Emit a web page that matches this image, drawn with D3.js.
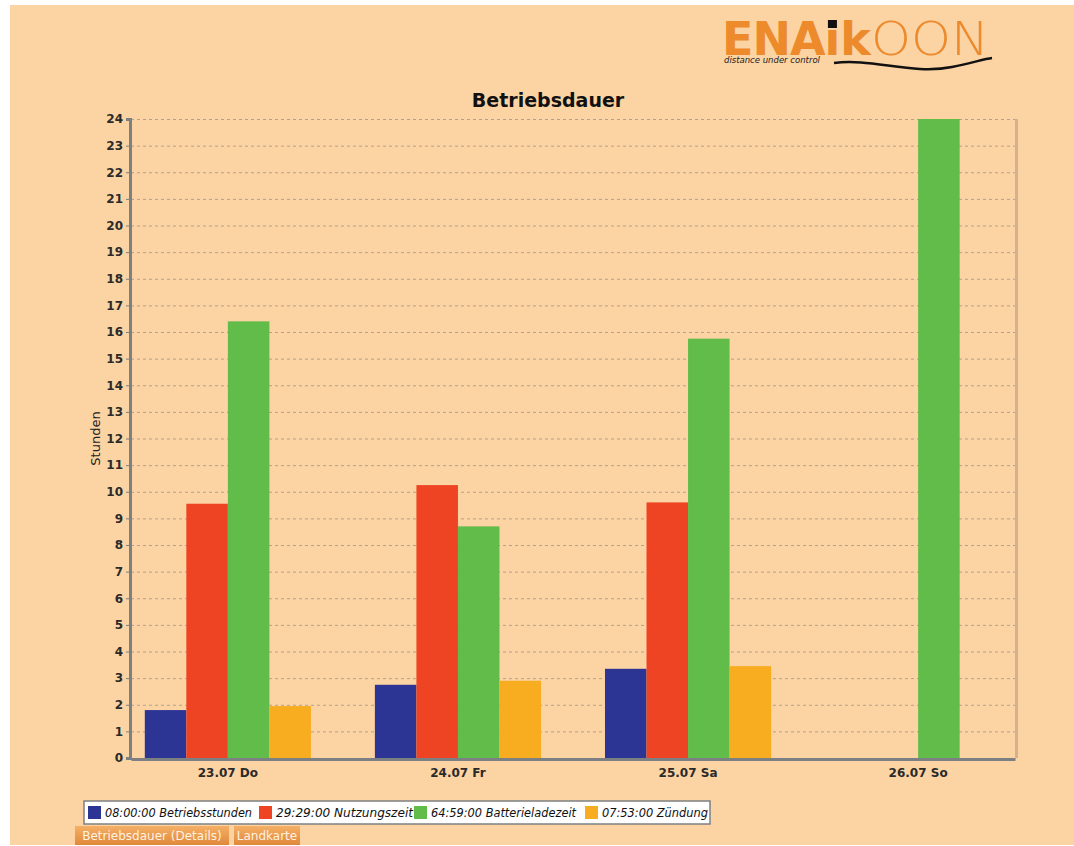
<!DOCTYPE html>
<html>
<head>
<meta charset="utf-8">
<script src="https://cdn.jsdelivr.net/npm/d3@7/dist/d3.min.js"></script>
<style>
  body { margin: 0; background: #fff; }
  svg { display: block; }
  text { font-family: "DejaVu Sans", sans-serif; }
</style>
</head>
<body>
<div class="chart"></div>
<script>
// data
const categories = ['23.07 Do', '24.07 Fr', '25.07 Sa', '26.07 So'];
const seriesNames = ['Betriebsstunden', 'Nutzungszeit', 'Batterieladezeit', 'Zündung'];
const seriesTotals = ['08:00:00', '29:29:00', '64:59:00', '07:53:00'];
const seriesColors = ['#2c3494', '#ee4424', '#62bc4a', '#f8ac20'];
const betriebsstunden = [1.8, 2.75, 3.35, 0];
const nutzungszeit = [9.55, 10.25, 9.6, 0];
const batterieladezeit = [16.4, 8.7, 15.75, 24];
const zuendung = [1.95, 2.9, 3.45, 0];
const yTicks = d3.range(0, 25);
const buttons = ['Betriebsdauer (Details)', 'Landkarte'];

const seriesValues = [betriebsstunden, nutzungszeit, batterieladezeit, zuendung];

const svg_width = 1074, svg_height = 846;
const margin = {top: 119, right: 59, bottom: 88, left: 131};
const chart_width = svg_width - margin.left - margin.right;
const chart_height = svg_height - margin.top - margin.bottom;

const svg = d3.select('.chart').append('svg')
  .attr('width', svg_width).attr('height', svg_height);

// peach page background
svg.append('rect').attr('x', 10).attr('y', 5)
  .attr('width', svg_width - 10).attr('height', svg_height - 6)
  .attr('fill', '#fcd3a3');

// logo
const logo = svg.append('g').attr('transform', 'translate(722,55)');
const logoText = logo.append('text').attr('font-family', '"DejaVu Sans", sans-serif')
  .attr('fill', '#ec8a2c').style('font-size', '46px');
logoText.append('tspan').text('ENA').attr('font-weight', 'bold').attr('letter-spacing', '-1');
logoText.append('tspan').text('ı').attr('font-weight', 'bold');
logoText.append('tspan').text('k').attr('font-weight', 'bold');
logoText.append('tspan').text('OON').attr('font-weight', '200').style('font-size', '47px')
  .attr('font-family', '"DejaVu Sans ExtraLight", "DejaVu Sans", sans-serif')
  .attr('textLength', 118).attr('lengthAdjust', 'spacingAndGlyphs');
// black dot over the i
const ln = logoText.node();
const iStart = ln.getStartPositionOfChar(3).x, iEnd = ln.getEndPositionOfChar(3).x;
logo.append('rect').attr('x', (iStart + iEnd) / 2 - 4.5).attr('y', -35)
  .attr('width', 9).attr('height', 8).attr('fill', '#111');
logo.append('text').text('distance under control').attr('x', 2).attr('y', 8)
  .style('font-size', '8.5px').style('font-style', 'italic').attr('fill', '#222');
logo.append('path')
  .attr('d', 'M112,8 C150,3 190,20 230,12 C250,8 262,4 270,3')
  .attr('fill', 'none').attr('stroke', '#111').attr('stroke-width', 2.5);

// title
svg.append('text').text('Betriebsdauer')
  .attr('x', 548).attr('y', 107).attr('text-anchor', 'middle')
  .style('font-size', '19px').style('font-weight', 'bold').attr('fill', '#111');

const g = svg.append('g').attr('transform', `translate(${margin.left},${margin.top})`);

const xScale = d3.scaleBand().domain(categories).range([0, chart_width])
  .paddingInner(0.278).paddingOuter(0.06);
const xInner = d3.scaleBand().domain(seriesNames).range([0, xScale.bandwidth()]);
const yScale = d3.scaleLinear().domain([0, 24]).range([chart_height, 0]);

// right-side shadow border
g.append('rect').attr('x', chart_width).attr('y', 0).attr('width', 3).attr('height', chart_height)
  .attr('fill', '#d4b08c');

// grid
const grid = g.append('g').attr('class', 'grid')
  .call(d3.axisLeft(yScale).tickValues(yTicks).tickSize(-chart_width).tickFormat(''));
grid.select('.domain').remove();
grid.selectAll('line').attr('stroke', '#b4a08c').attr('stroke-dasharray', '3,3').attr('stroke-width', 1);

// bars
const groups = g.selectAll('.group').data(categories).enter().append('g')
  .attr('class', 'group').attr('transform', d => `translate(${xScale(d)},0)`);
groups.selectAll('rect')
  .data((c, i) => seriesNames.map((s, j) => ({s, j, v: seriesValues[j][i]})))
  .enter().append('rect')
  .attr('x', d => xInner(d.s))
  .attr('width', xInner.bandwidth())
  .attr('y', d => yScale(d.v))
  .attr('height', d => chart_height - yScale(d.v))
  .attr('fill', d => seriesColors[d.j]);

// axes
const yAxis = g.append('g').attr('transform', 'translate(-1,0)')
  .call(d3.axisLeft(yScale).tickValues(yTicks).tickSize(4).tickFormat(d3.format('d')));
yAxis.select('.domain').attr('stroke', '#7d8082').attr('stroke-width', 3);
yAxis.selectAll('.tick line').attr('stroke', '#7d8082');
yAxis.selectAll('text').style('font-size', '12px').style('font-weight', 'bold')
  .attr('fill', '#2a2a2a').attr('font-family', '"DejaVu Sans Condensed", sans-serif');

const xAxis = g.append('g').attr('transform', `translate(0,${chart_height + 1})`)
  .call(d3.axisBottom(xScale).tickSize(0).tickPadding(9));
xAxis.select('.domain').attr('stroke', '#7d8082').attr('stroke-width', 3);
xAxis.selectAll('text').style('font-size', '12px').style('font-weight', 'bold')
  .attr('fill', '#2a2a2a').attr('font-family', '"DejaVu Sans Condensed", sans-serif');

// y label
g.append('text').text('Stunden')
  .attr('transform', `translate(-31,${chart_height / 2}) rotate(-90)`)
  .attr('text-anchor', 'middle')
  .style('font-size', '13px').attr('fill', '#222');

// legend
const legend = svg.append('g').attr('transform', 'translate(84,801)');
legend.append('rect').attr('width', 626).attr('height', 23)
  .attr('fill', '#fff').attr('stroke', '#7d8082').attr('stroke-width', 1.5);
const legendX = [4, 175, 330, 501];
const legendW = [147, 137, 145, 106];
const items = legend.selectAll('.item').data(seriesNames).enter().append('g')
  .attr('transform', (d, i) => `translate(${legendX[i]},5)`);
items.append('rect').attr('width', 13).attr('height', 13)
  .attr('fill', (d, i) => seriesColors[i]);
items.append('text').attr('x', 17).attr('y', 11)
  .style('font-size', '12px').style('font-style', 'italic').attr('fill', '#111')
  .attr('font-family', '"DejaVu Sans Condensed", sans-serif')
  .attr('textLength', (d, i) => legendW[i]).attr('lengthAdjust', 'spacingAndGlyphs')
  .text((d, i) => `${seriesTotals[i]} ${d}`);

// buttons
const defs = svg.append('defs');
const grad = defs.append('linearGradient').attr('id', 'btn').attr('x1', 0).attr('x2', 0).attr('y1', 0).attr('y2', 1);
grad.append('stop').attr('offset', 0).attr('stop-color', '#f4b066');
grad.append('stop').attr('offset', 1).attr('stop-color', '#e0883a');
const btnX = [75, 234], btnW = [154, 66];
const btn = svg.selectAll('.btn').data(buttons).enter().append('g')
  .attr('transform', (d, i) => `translate(${btnX[i]},826)`);
btn.append('rect').attr('width', (d, i) => btnW[i]).attr('height', 19).attr('fill', 'url(#btn)');
btn.append('text').attr('x', (d, i) => btnW[i] / 2).attr('y', 14).attr('text-anchor', 'middle')
  .style('font-size', '12px').attr('fill', '#fff2e0')
  .attr('font-family', '"Liberation Serif", serif')
  .text(d => d);
</script>
</body>
</html>
